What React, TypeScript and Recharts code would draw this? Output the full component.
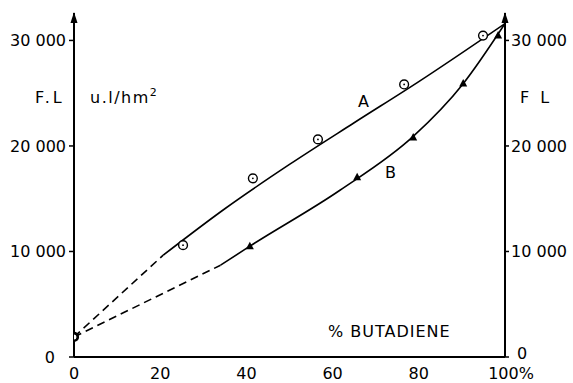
import React from "react";
import {
  ComposedChart,
  Line,
  Scatter,
  XAxis,
  YAxis,
  ReferenceDot,
} from "recharts";

// x = % butadiene, y = F.L (u.l/hm²)
const startPoint = [{ x: 0, y: 1900 }];
const curveADashed = [
  { x: 0, y: 1900 },
  { x: 20.7, y: 9650 },
];
const curveA = [
  { x: 20.7, y: 9650 },
  { x: 35, y: 14050 },
  { x: 50, y: 18250 },
  { x: 65, y: 22200 },
  { x: 80, y: 26100 },
  { x: 100, y: 31600 },
];
const curveBDashed = [
  { x: 0, y: 1900 },
  { x: 34, y: 8700 },
];
const curveB = [
  { x: 34, y: 8700 },
  { x: 40.8, y: 10500 },
  { x: 61.7, y: 15800 },
  { x: 78.7, y: 20900 },
  { x: 90.3, y: 25900 },
  { x: 100, y: 31600 },
];
const pointsA = [
  { x: 25.3, y: 10600 },
  { x: 41.5, y: 16930 },
  { x: 56.6, y: 20620 },
  { x: 76.6, y: 25830 },
  { x: 94.9, y: 30460 },
];
const pointsB = [
  { x: 40.8, y: 10500 },
  { x: 65.7, y: 17030 },
  { x: 78.7, y: 20810 },
  { x: 90.3, y: 25920 },
  { x: 98.4, y: 30460 },
];
const xTicks = [0, 20, 40, 60, 80, 100];
const yTicks = [0, 10000, 20000, 30000];
const yTop = 32600;

const FONT = "'DejaVu Sans', 'Liberation Sans', sans-serif";

const fmtY = (v: number) =>
  v === 0 ? "0" : String(v).replace(/\B(?=(\d{3})+(?!\d))/g, " ");

const CircleMark = (p: any) => (
  <g>
    <circle cx={p.cx} cy={p.cy} r={4.4} fill="#fff" stroke="#000" strokeWidth={1.4} />
    <circle cx={p.cx} cy={p.cy} r={0.9} fill="#000" />
  </g>
);
const TriMark = (p: any) => (
  <polygon
    points={`${p.cx},${p.cy - 4.5} ${p.cx - 4},${p.cy + 3} ${p.cx + 4},${p.cy + 3}`}
    fill="#000"
  />
);
const StartMark = (p: any) => (
  <circle cx={p.cx} cy={p.cy} r={3.8} fill="#fff" stroke="#000" strokeWidth={2.6} />
);
const Arrow = (p: any) => (
  <polygon
    points={`${p.cx},${p.cy - 1} ${p.cx - 3.5},${p.cy + 10} ${p.cx + 3.5},${p.cy + 10}`}
    fill="#000"
  />
);

const XTick = (p: any) => {
  const v = p.payload.value;
  return (
    <text
      x={p.x + (v === 100 ? 6 : 0)}
      y={p.y + 1}
      dy="0.71em"
      textAnchor="middle"
      fontSize={16}
      fontFamily={FONT}
      fill="#000"
    >
      {v === 100 ? "100%" : String(v)}
    </text>
  );
};

const LeftTick = (p: any) => {
  const v = p.payload.value;
  return (
    <text
      x={p.x - (v === 0 ? 11 : 0)}
      y={p.y}
      dy="0.355em"
      textAnchor="end"
      fontSize={16}
      fontFamily={FONT}
      fill="#000"
    >
      {fmtY(v)}
    </text>
  );
};

const RightTick = (p: any) => {
  const v = p.payload.value;
  return (
    <text
      x={p.x + (v === 0 ? 6 : 0)}
      y={p.y - (v === 0 ? 4 : 0)}
      dy="0.355em"
      textAnchor="start"
      fontSize={16}
      fontFamily={FONT}
      fill="#000"
    >
      {fmtY(v)}
    </text>
  );
};

const textStyle: React.CSSProperties = {
  position: "absolute",
  fontFamily: FONT,
  fontSize: 16,
  color: "#000",
  lineHeight: "16px",
  whiteSpace: "nowrap",
};

export default function App() {
  return (
    <div style={{ position: "absolute", left: 0, top: 0, width: 573, height: 383, background: "#fff" }}>
      <ComposedChart
        width={573}
        height={383}
        margin={{ top: 13, right: 0, left: 0, bottom: 0 }}
      >
        <XAxis
          type="number"
          dataKey="x"
          domain={[0, 100]}
          ticks={xTicks}
          allowDataOverflow
          tickLine={false}
          tickSize={6}
          tickMargin={4}
          height={26}
          axisLine={{ stroke: "#000", strokeWidth: 2 }}
          tick={<XTick />}
        />
        <YAxis
          yAxisId="left"
          type="number"
          dataKey="y"
          domain={[0, yTop]}
          ticks={yTicks}
          allowDataOverflow
          width={74}
          tickSize={5}
          tickMargin={3}
          axisLine={{ stroke: "#000", strokeWidth: 2 }}
          tickLine={{ stroke: "#000", strokeWidth: 1.5 }}
          tick={<LeftTick />}
        />
        <YAxis
          yAxisId="right"
          orientation="right"
          type="number"
          domain={[0, yTop]}
          ticks={yTicks}
          allowDataOverflow
          width={68}
          tickSize={4}
          tickMargin={2}
          axisLine={{ stroke: "#000", strokeWidth: 2 }}
          tickLine={{ stroke: "#000", strokeWidth: 1.5 }}
          tick={<RightTick />}
        />
        <Line
          yAxisId="left"
          data={curveADashed}
          dataKey="y"
          type="linear"
          stroke="#000"
          strokeWidth={1.6}
          strokeDasharray="8 5"
          dot={false}
          isAnimationActive={false}
        />
        <Line
          yAxisId="left"
          data={curveBDashed}
          dataKey="y"
          type="linear"
          stroke="#000"
          strokeWidth={1.6}
          strokeDasharray="8 5"
          dot={false}
          isAnimationActive={false}
        />
        <Line
          yAxisId="left"
          data={curveA}
          dataKey="y"
          type="monotone"
          stroke="#000"
          strokeWidth={1.6}
          dot={false}
          isAnimationActive={false}
        />
        <Line
          yAxisId="left"
          data={curveB}
          dataKey="y"
          type="monotone"
          stroke="#000"
          strokeWidth={1.6}
          dot={false}
          isAnimationActive={false}
        />
        <Scatter yAxisId="left" data={pointsA} dataKey="y" shape={<CircleMark />} isAnimationActive={false} />
        <Scatter yAxisId="left" data={pointsB} dataKey="y" shape={<TriMark />} isAnimationActive={false} />
        <Scatter yAxisId="left" data={startPoint} dataKey="y" shape={<StartMark />} isAnimationActive={false} />
        <ReferenceDot yAxisId="left" x={0} y={yTop} ifOverflow="visible" shape={<Arrow />} />
        <ReferenceDot yAxisId="left" x={100} y={yTop} ifOverflow="visible" shape={<Arrow />} />
      </ComposedChart>
      <div style={{ ...textStyle, left: 35, top: 90, letterSpacing: 3 }}>F.L</div>
      <div style={{ ...textStyle, left: 90, top: 90, letterSpacing: 1.5 }}>
        u.l/hm<sup style={{ fontSize: 11, verticalAlign: "7px", lineHeight: 0 }}>2</sup>
      </div>
      <div style={{ ...textStyle, left: 520, top: 90, letterSpacing: 3 }}>F L</div>
      <div style={{ ...textStyle, left: 358, top: 94 }}>A</div>
      <div style={{ ...textStyle, left: 385, top: 165 }}>B</div>
      <div style={{ ...textStyle, left: 328, top: 324, letterSpacing: 1 }}>% BUTADIENE</div>
    </div>
  );
}
